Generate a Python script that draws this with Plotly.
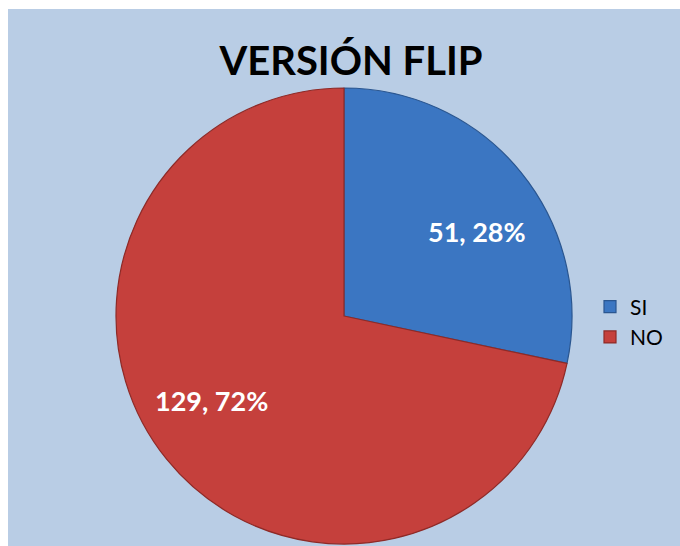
import math
import plotly.graph_objects as go

# Survey answers for the "FLIP" version question
categories = ["SI", "NO"]
counts = [51, 129]
slice_colors = ["#3B76C2", "#C5403C"]
edge_colors = ["#2A5690", "#8E2A27"]

W, H = 680, 546
FONT = "Lato"

# pie geometry in pixels
PIE_CX, PIE_CY, PIE_R = 344, 316, 228

fig = go.Figure(
    go.Pie(
        labels=categories,
        values=counts,
        sort=False,
        direction="clockwise",
        rotation=0,
        marker=dict(colors=slice_colors, line=dict(color=edge_colors, width=1.2)),
        textposition="none",
        domain=dict(
            x=[(PIE_CX - PIE_R) / W, (PIE_CX + PIE_R) / W],
            y=[(H - PIE_CY - PIE_R) / H, (H - PIE_CY + PIE_R) / H],
        ),
        hoverinfo="label+value+percent",
    )
)

# data labels "value, percent" placed along each slice's bisector
total = sum(counts)
cum = 0
annotations = []
for v in counts:
    mid = 360 * (cum + v / 2) / total + 6.5
    cum += v
    rad = math.radians(mid)
    dist = 0.69 * PIE_R
    px = PIE_CX + dist * math.sin(rad)
    py = PIE_CY - dist * math.cos(rad)
    annotations.append(
        dict(
            text=f"<b>{v}, {round(100 * v / total)}%</b>",
            x=px / W,
            y=(H - py) / H,
            xref="paper",
            yref="paper",
            xanchor="center",
            yanchor="middle",
            showarrow=False,
            font=dict(family=FONT, size=27, color="white"),
        )
    )

fig.update_layout(
    width=W,
    height=H,
    margin=dict(l=0, r=0, t=0, b=0),
    paper_bgcolor="white",
    plot_bgcolor="white",
    title=dict(
        text="<b>VERSIÓN FLIP</b>",
        font=dict(family=FONT, size=40, color="black"),
        x=351 / W,
        xanchor="center",
        y=(H - 61) / H,
        yanchor="middle",
    ),
    legend=dict(
        x=590 / W,
        y=(H - 322) / H,
        xanchor="left",
        yanchor="middle",
        font=dict(family=FONT, size=21, color="black"),
        bgcolor="rgba(0,0,0,0)",
        itemwidth=30,
    ),
    annotations=annotations,
    shapes=[
        dict(
            type="rect",
            xref="paper",
            yref="paper",
            x0=8 / W,
            x1=1,
            y0=0,
            y1=(H - 9) / H,
            fillcolor="#B9CDE5",
            line=dict(width=0),
            layer="below",
        )
    ],
)

fig.write_html("out.html")
